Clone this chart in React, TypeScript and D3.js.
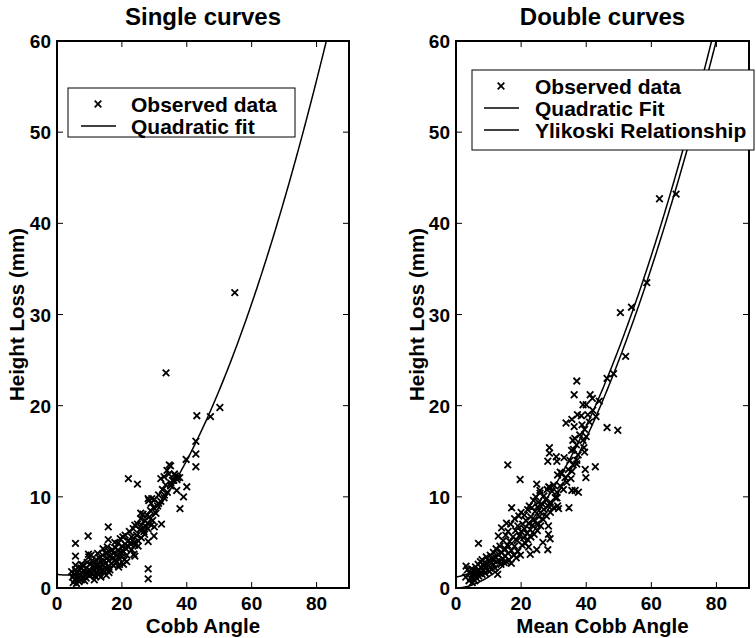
import React from "react";
import * as d3 from "d3";

// ---------- data ----------
const titles = ["Single curves", "Double curves"];
const xLabels = ["Cobb Angle", "Mean Cobb Angle"];
const yLabel = "Height Loss (mm)";
const xTicks = [0, 20, 40, 60, 80];
const yTicks = [0, 10, 20, 30, 40, 50, 60];
const leftLegend = ["Observed data", "Quadratic fit"];
const rightLegend = ["Observed data", "Quadratic Fit", "Ylikoski Relationship"];

// single curves: observed (Cobb angle, height loss)
const singlePoints: [number, number][] = [
  [4.5,1.8],[4.8,1.2],[5,0.6],[5.2,1.5],[5.5,0.9],[5.7,2.0],[6,1.3],[6,0.5],[6.3,1.7],[6.5,1.0],
  [6.8,0.7],[7,1.9],[7,1.4],[7.3,2.2],[7.5,0.9],[7.8,1.6],[8,1.2],[8,2.5],[8.3,1.9],[8.5,0.8],
  [8.7,1.5],[9,2.2],[9,1.1],[9.3,2.8],[9.5,1.7],[9.8,3.4],[10,2.0],[10,1.3],[10.2,2.6],[10.5,1.6],
  [10.8,3.0],[11,2.3],[11,1.5],[11.3,1.9],[11.5,2.8],[11.8,1.3],[12,3.1],[12,2.2],[12.3,1.7],[12.5,2.6],
  [12.8,2.0],[13,3.3],[13,1.5],[13.3,2.4],[13.5,2.9],[13.8,1.9],[14,3.6],[14,2.5],[14.2,4.3],[14.5,1.8],
  [14.5,3.0],[14.8,2.2],[15,3.8],[15,2.7],[15.2,1.4],[15.5,3.3],[15.5,4.5],[15.8,2.4],[16,3.0],[16,4.0],
  [16.3,2.0],[16.5,3.5],[16.8,2.7],[17,4.2],[17,3.2],[17.3,2.5],[17.5,3.8],[17.8,5.0],[18,3.1],[18,4.4],
  [18.3,2.8],[18.5,3.6],[18.8,4.9],[19,3.3],[19,4.1],[19.3,2.6],[19.5,5.4],[19.8,3.9],[20,4.6],[20,3.4],
  [20.3,5.6],[20.5,4.0],[20.8,3.1],[21,4.8],[21,5.8],[21.3,4.3],[21.5,3.6],[22,5.2],[22,4.5],[22.3,6.2],
  [22.5,4.9],[23,5.6],[23,4.2],[23.5,6.5],[23.8,5.0],[24,6.9],[24,4.7],[24.5,5.8],[24.8,7.0],[25,5.2],
  [25,4.6],[25.5,6.4],[25.8,7.6],[26,5.5],[26,6.9],[26.5,8.1],[26.8,6.2],[27,7.4],[27,5.9],[27.5,6.7],
  [27.8,8.0],[28,7.1],[28,6.5],[28.3,9.6],[28.5,7.8],[28.8,8.5],[29,6.9],[29,9.3],[29.5,7.4],[29.8,8.8],
  [30,6.7],[30,9.7],[30.5,8.2],[31,9.0],[31.3,10.2],[32,9.5],[32.5,10.8],[33,9.9],[33.5,11.3],[34,10.5],
  [34.5,12.5],[35,11.2],[36,11.8],[36.5,12.3],[37,11.9],
  [7.5,2.6],[11.5,0.9],[13.5,1.2],[16,1.7],[19,2.3],[20.5,2.6],[10.5,3.6],[12.5,3.8],[21.5,2.9],[24,3.5],
  // scattered points
  [43.1,18.9],[47.3,18.8],[50.2,19.8],[42.8,16.1],[42.8,14.7],[42.8,13.3],[39.8,14.1],[40.0,11.1],
  [39.0,10.0],[37.9,8.7],[36.9,10.7],[37.2,12.1],[37.8,12.1],[36.2,12.5],[35.0,13.4],[33.9,12.9],
  [32.0,12.0],[33.0,12.2],[22.0,12.0],[24.8,11.4],[32.2,7.0],[29.9,5.7],[28.1,5.1],[28.1,2.1],
  [28.1,1.0],[5.7,4.9],[5.7,3.5],[5.7,2.5],[9.6,5.7],[15.8,6.7],[15.8,5.3],[23.7,3.7],[9.7,3.7],
  [15.6,2.1],[28.1,9.8],[29.2,9.8],[25.8,8.2],[31.3,9.3],[33.1,10.2],[35.1,11.5],[35.6,11.8],
  [33.6,23.6],[54.8,32.4],[34.6,13.5]
];

// double curves: observed (mean Cobb angle, height loss)
const doublePoints: [number, number][] = [
  [3,1.2],[3.5,2.0],[4,0.8],[4.2,1.6],[4.5,1.1],[4.8,2.1],[5,0.6],[5,1.5],[5.3,1.0],[5.5,1.9],
  [5.8,0.8],[6,1.4],[6,2.3],[6.3,1.1],[6.5,1.8],[6.8,2.6],[7,1.3],[7,2.0],[7.3,1.6],[7.5,2.9],
  [7.8,2.2],[8,1.5],[8,3.1],[8.3,2.5],[8.5,1.9],[8.8,2.8],[9,2.3],[9,1.6],[9.3,3.4],[9.5,2.6],
  [9.8,2.0],[10,3.0],[10,2.4],[10.3,1.8],[10.5,3.6],[10.8,2.7],[11,3.2],[11,2.1],[11.5,3.9],[11.5,2.6],
  [12,3.4],[12,2.2],[12.3,4.3],[12.5,2.9],[12.8,1.5],[13,3.7],[13,5.7],[13.3,3.0],[13.5,4.6],[13.8,2.6],
  [14,3.9],[14,6.6],[14.3,3.2],[14.5,5.2],[14.8,2.8],[15,4.3],[15,3.5],[15.3,5.8],[15.5,2.9],[15.5,7.1],
  [15.8,4.7],[16,3.8],[16,6.2],[16.3,3.1],[16.5,5.1],[16.8,7.0],[17,4.1],[17,2.7],[17.5,5.6],[17.8,3.6],
  [18,4.6],[18,7.6],[18.3,6.3],[18.5,3.3],[18.8,5.2],[19,6.8],[19,4.0],[19.3,7.9],[19.5,5.7],[19.8,3.6],
  [20,6.2],[20,8.3],[20.3,4.7],[20.5,7.0],[20.8,5.5],[21,6.5],[21,8.0],[21.3,4.9],[21.5,7.4],[21.8,6.0],
  [22,8.6],[22,5.3],[22.3,7.1],[22.5,9.0],[22.8,6.4],[23,7.8],[23,5.6],[23.3,8.8],[23.5,6.9],[23.8,9.6],
  [24,7.5],[24,5.9],[24.3,8.4],[24.5,10.0],[24.8,7.0],[25,8.9],[25,6.3],[25.3,9.4],[25.5,7.8],[25.8,10.4],
  [26,8.3],[26,6.8],[26.5,9.2],[26.8,7.5],[27,10.1],[27,8.6],[27.5,9.7],[27.8,7.9],[28,10.8],[28.3,9.0],
  [28.5,11.1],[29,9.4],[29,8.3],[29.5,10.6],[30,8.8],[30,11.3],[30.5,9.9],[31,10.5],[31.5,8.7],[32,11.2],
  [32.5,12.6],[33,10.8],[33.5,12.1],[34,11.6],[34.5,13.0],[35,14.0],[35.5,15.1],[36,13.5],[36.5,16.4],[37,15.7],
  [37.5,14.6],[38,16.8],[38.5,18.9],[39,16.2],[39.5,17.4],[40,16.6],[40.5,19.0],[41,18.2],[42,19.5],[43,18.8],
  [44,20.5],
  // scattered points
  [50.5,30.2],[37.1,22.7],[36.3,21.2],[41.2,21.2],[41.9,20.8],[39.0,20.1],[40.0,20.1],[37.3,19.0],
  [35.6,18.5],[33.8,18.1],[36.3,17.7],[38.7,17.9],[46.4,23.0],[46.4,17.6],[49.7,17.3],[48.4,23.5],
  [35.9,16.2],[36.1,15.2],[39.3,15.4],[39.5,14.9],[28.7,15.4],[28.7,14.8],[30.8,14.4],[33.2,14.3],
  [28.2,13.9],[31.0,13.9],[37.1,14.0],[42.8,13.3],[15.9,13.5],[19.7,11.9],[35.6,12.8],[32.0,12.7],
  [31.2,12.4],[39.7,13.0],[39.9,12.1],[37.1,13.6],[35.3,12.0],[35.6,10.7],[36.6,10.7],[37.6,10.5],
  [34.7,8.8],[24.8,11.4],[25.8,10.7],[28.9,11.0],[31.0,9.9],[31.2,9.0],[6.9,4.9],[3.1,2.4],
  [17.1,8.8],[28.4,6.8],[28.4,5.9],[28.9,5.4],[28.2,4.2],[26.7,5.0],[22.8,3.7],[22.3,4.5],[24.8,4.2],
  [62.5,42.7],[67.6,43.2],[58.6,33.5],[53.9,30.8],[52.1,25.4]
];

// fitted curve coefficients
const singleQuad = [1.5, -0.0523, 0.00912]; // a + b x + c x^2
const doubleQuad = [1.2, 0.066, 0.0087];
const ylikoski = [0.0166, 1.87]; // a * x^p

const FONT = "'Liberation Sans', Arial, Helvetica, sans-serif";
const MARK = "M-3.3,-3.3L3.3,3.3M-3.3,3.3L3.3,-3.3";

type PanelProps = {
  left: number;
  right: number;
  title: string;
  xLabel: string;
  points: [number, number][];
  curves: ((x: number) => number)[];
  legend: string[];
  legendBox: { x: number; y: number; w: number; h: number };
  legendRows: number[];
  legendMarkerX: number;
  legendTextX: number;
  yLabelX: number;
  id: string;
};

function Panel(p: PanelProps) {
  const top = 41, bottom = 588;
  const x = d3.scaleLinear().domain([0, 90]).range([p.left, p.right]);
  const y = d3.scaleLinear().domain([0, 60]).range([bottom, top]);
  const xs = d3.range(0, 90.01, 0.25);
  const tick = 6;
  return (
    <g>
      <defs>
        <clipPath id={p.id}>
          <rect x={p.left} y={top} width={p.right - p.left} height={bottom - top} />
        </clipPath>
      </defs>
      <text x={(p.left + p.right) / 2} y={25} textAnchor="middle" fontSize={24} fontWeight="bold" fontFamily={FONT}>
        {p.title}
      </text>
      <g clipPath={`url(#${p.id})`}>
        {p.curves.map((f, i) => (
          <path
            key={i}
            d={d3.line<number>().x((d) => x(d)).y((d) => y(f(d)))(xs) || ""}
            fill="none"
            stroke="#000"
            strokeWidth={1.5}
          />
        ))}
        {p.points.map(([px, py], i) => (
          <path
            key={i}
            transform={`translate(${x(px)},${y(py)})`}
            d={MARK}
            stroke="#000"
            strokeWidth={1.8}
            fill="none"
          />
        ))}
      </g>
      {/* axis box */}
      <rect x={p.left} y={top} width={p.right - p.left} height={bottom - top} fill="none" stroke="#000" strokeWidth={2} />
      {xTicks.map((t) => (
        <g key={"x" + t}>
          <line x1={x(t)} x2={x(t)} y1={bottom} y2={bottom - tick} stroke="#000" strokeWidth={1} />
          <line x1={x(t)} x2={x(t)} y1={top} y2={top + tick} stroke="#000" strokeWidth={1} />
          <text x={x(t)} y={610} textAnchor="middle" fontSize={19} fontWeight="bold" fontFamily={FONT}>
            {t}
          </text>
        </g>
      ))}
      {yTicks.map((t) => (
        <g key={"y" + t}>
          <line x1={p.left} x2={p.left + tick} y1={y(t)} y2={y(t)} stroke="#000" strokeWidth={1} />
          <line x1={p.right} x2={p.right - tick} y1={y(t)} y2={y(t)} stroke="#000" strokeWidth={1} />
          <text x={p.left - 6} y={y(t) + 7} textAnchor="end" fontSize={19} fontWeight="bold" fontFamily={FONT}>
            {t}
          </text>
        </g>
      ))}
      <text x={(p.left + p.right) / 2} y={633} textAnchor="middle" fontSize={20.5} fontWeight="bold" fontFamily={FONT}>
        {p.xLabel}
      </text>
      <text
        transform={`translate(${p.yLabelX},${(top + bottom) / 2}) rotate(-90)`}
        textAnchor="middle"
        fontSize={20.5}
        fontWeight="bold"
        fontFamily={FONT}
      >
        {yLabel}
      </text>
      {/* legend */}
      <rect x={p.legendBox.x} y={p.legendBox.y} width={p.legendBox.w} height={p.legendBox.h} fill="#fff" stroke="#000" strokeWidth={1} />
      {p.legend.map((label, i) => {
        const cy = p.legendRows[i];
        return (
          <g key={label}>
            {i === 0 ? (
              <path transform={`translate(${p.legendMarkerX},${cy})`} d={MARK} stroke="#000" strokeWidth={1.8} />
            ) : (
              <line x1={p.legendMarkerX - 17} x2={p.legendMarkerX + 18} y1={cy} y2={cy} stroke="#000" strokeWidth={1.5} />
            )}
            <text x={p.legendTextX} y={cy + 7.5} fontSize={21} fontWeight="bold" fontFamily={FONT}>
              {label}
            </text>
          </g>
        );
      })}
    </g>
  );
}

export default function App() {
  const q1 = (xv: number) => singleQuad[0] + singleQuad[1] * xv + singleQuad[2] * xv * xv;
  const q2 = (xv: number) => doubleQuad[0] + doubleQuad[1] * xv + doubleQuad[2] * xv * xv;
  const yl = (xv: number) => ylikoski[0] * Math.pow(xv, ylikoski[1]);
  return (
    <svg width={756} height={638} style={{ position: "absolute", left: 0, top: 0, background: "#fff" }}>
      <rect width={756} height={638} fill="#fff" />
      <Panel
        id="clipL"
        left={57}
        right={349}
        title={titles[0]}
        xLabel={xLabels[0]}
        points={singlePoints}
        curves={[q1]}
        legend={leftLegend}
        legendBox={{ x: 68, y: 88, w: 227, h: 49 }}
        legendRows={[104, 126]}
        legendMarkerX={98}
        legendTextX={131}
        yLabelX={24}
      />
      <Panel
        id="clipR"
        left={456}
        right={749}
        title={titles[1]}
        xLabel={xLabels[1]}
        points={doublePoints}
        curves={[q2, yl]}
        legend={rightLegend}
        legendBox={{ x: 472, y: 70, w: 282, h: 80 }}
        legendRows={[86, 108, 130]}
        legendMarkerX={501}
        legendTextX={535}
        yLabelX={424}
      />
    </svg>
  );
}
